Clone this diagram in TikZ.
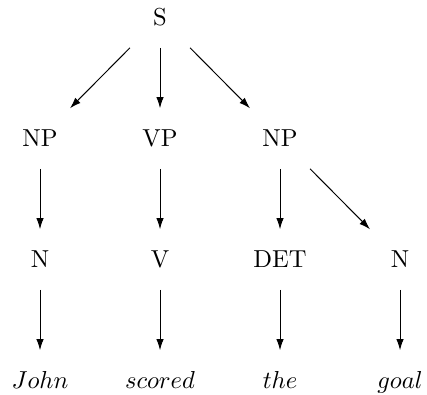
\documentclass[tikz,border=0pt]{standalone}
\usetikzlibrary{arrows.meta,calc}
\begin{document}
\begin{tikzpicture}[x=0.4075pt,y=-0.4075pt,
  cat/.style={inner sep=0pt,text height=7pt,text depth=0.5pt},
  branch/.style={-{Latex[length=4.5pt,width=3pt]},line width=0.4pt}]
\useasboundingbox (0,0) rectangle (427,394);
% categories
\node[cat] (s)    at (160,17.5)  {S};
\node[cat] (np1)  at (40,138.5)  {NP};
\node[cat] (vp)   at (160,138.5) {VP};
\node[cat] (np2)  at (280,138.5) {NP};
\node[cat] (n1)   at (40,259.5)  {N};
\node[cat] (v)    at (160,259.5) {V};
\node[cat] (det)  at (280,259.5) {DET};
\node[cat] (n2)   at (400,259.5) {N};
% words
\node[cat] (john)   at (40,380.5)  {$John$};
\node[cat] (scored) at (160,380.5) {$scored$};
\node[cat] (the)    at (280,380.5) {$the$};
\node[cat] (goal)   at (400,380.5) {$goal$};
% branches, each covering the middle half of the span between nodes
\foreach \a/\b in {s/np1,s/vp,s/np2,np1/n1,vp/v,np2/det,np2/n2,
                   n1/john,v/scored,det/the,n2/goal}
  \draw[branch] ($(\a)!0.25!(\b)$) -- ($(\a)!0.75!(\b)$);
\end{tikzpicture}
\end{document}
